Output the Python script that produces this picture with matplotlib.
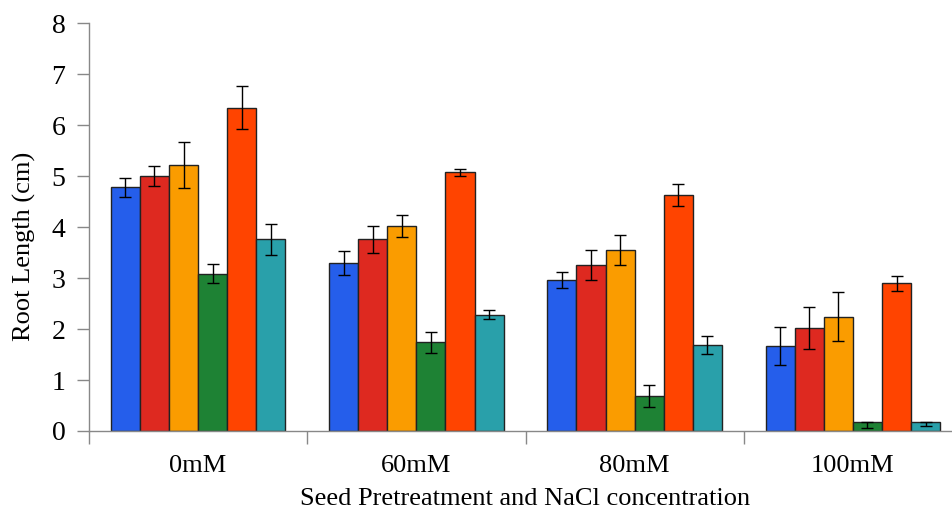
import numpy as np
import matplotlib.pyplot as plt

# Dane
categories = ["0mM", "60mM", "80mM", "100mM"]
colors = ["#255EEB", "#DE2920", "#FA9C00", "#1E8234", "#FF4400", "#29A0AA"]

# wartości dla 6 serii (kolejność kolorów), po jednej na kategorię
s1 = [4.78, 3.30, 2.96, 1.67]
s2 = [5.00, 3.76, 3.26, 2.02]
s3 = [5.22, 4.02, 3.55, 2.24]
s4 = [3.09, 1.74, 0.69, 0.17]
s5 = [6.34, 5.08, 4.63, 2.90]
s6 = [3.76, 2.28, 1.69, 0.17]

# błędy (dolny, górny)
e1 = [0.18, 0.24, 0.16, 0.37]
e2 = [0.20, 0.26, 0.29, 0.42]
e3 = [0.46, 0.22, 0.30, 0.48]
e4 = [0.19, 0.20, 0.22, 0.12]
e5 = [0.42, 0.07, 0.22, 0.15]
e6 = [0.31, 0.09, 0.18, 0.08]
e4_up = [0.19, 0.20, 0.22, 0.0]
e6_up = [0.31, 0.09, 0.18, 0.0]

series = [s1, s2, s3, s4, s5, s6]
err_low = [e1, e2, e3, e4, e5, e6]
err_high = [e1, e2, e3, e4_up, e5, e6_up]

plt.rcParams["font.family"] = ["Liberation Serif", "DejaVu Serif"]

fig = plt.figure(figsize=(9.53, 5.13), dpi=100)
ax = fig.add_axes([89 / 953, 82 / 513, 873 / 953, 407.7 / 513])

x = np.arange(len(categories))
w = 0.8 / 6
for i, (vals, lo, hi) in enumerate(zip(series, err_low, err_high)):
    pos = x - 0.4 + w * (i + 0.5)
    ax.bar(pos, vals, width=w, color=colors[i], edgecolor="#222222", linewidth=1, zorder=2)
    ax.errorbar(pos, vals, yerr=[lo, hi], fmt="none", ecolor="black",
                elinewidth=1, capsize=4, capthick=1, zorder=3)

ax.set_xlim(-0.5, 3.5)
ax.set_ylim(0, 8)
ax.set_yticks(range(0, 9))
ax.tick_params(axis="y", labelsize=20, length=9, color="#888888", width=1, pad=8)

ax.set_xticks(np.arange(-0.5, 3.6, 1.0))
ax.set_xticklabels([])
ax.set_xticks(x, minor=True)
ax.set_xticklabels(categories, minor=True, fontsize=19)
ax.tick_params(axis="x", which="major", length=9, color="#888888", width=1)
ax.tick_params(axis="x", which="minor", length=0, pad=17)

for side in ["top", "right"]:
    ax.spines[side].set_visible(False)
for side in ["left", "bottom"]:
    ax.spines[side].set_color("#888888")
    ax.spines[side].set_linewidth(1)

ax.set_ylabel("Root Length (cm)", fontsize=19)
ax.yaxis.set_label_coords(-0.061, 0.454)
ax.set_xlabel("Seed Pretreatment and NaCl concentration", fontsize=19, labelpad=8)

plt.savefig("out.png")
plt.close()
